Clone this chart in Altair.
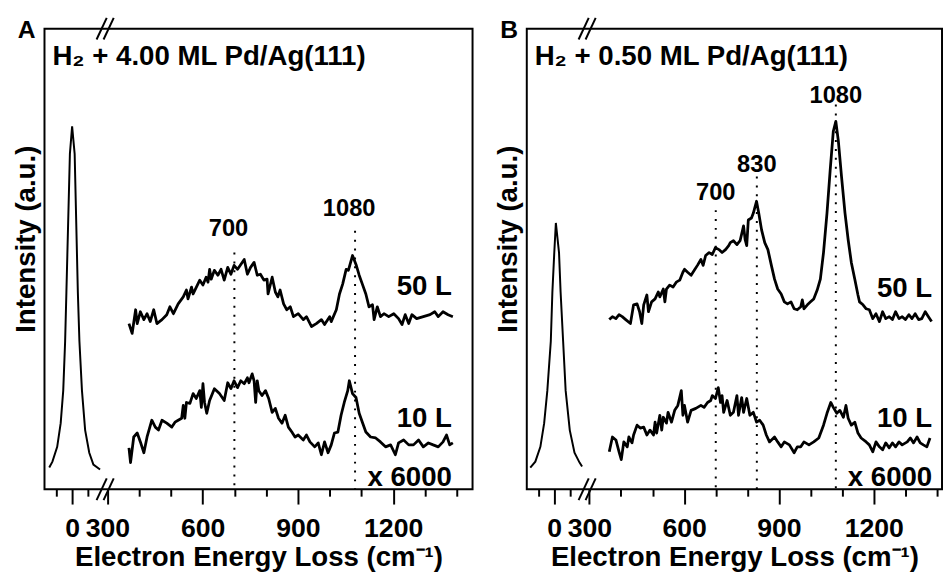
import altair as alt
import pandas as pd

# ---------------- data ----------------
PANEL_LETTERS = ["A", "B"]
PANEL_TITLES = ["H₂ + 4.00 ML Pd/Ag(111)", "H₂ + 0.50 ML Pd/Ag(111)"]
CURVE_LABELS = ["50 L", "10 L", "x 6000"]

# elastic (specular) peak, energy loss in cm-1, intensity in a.u.
A_ELASTIC_E = [-72, -62, -47, -36, -28, -22, -18, -7, 0, 8, 18, 23, 31, 41, 54, 67, 88]
A_ELASTIC_I = [22, 28, 43, 67, 100, 150, 200, 340, 368, 340, 200, 150, 100, 60, 37, 25, 20]
B_ELASTIC_E = [-76, -60, -44, -32, -22, -11, -6, 0, 5, 15, 20, 28, 36, 49, 64, 80, 88]
B_ELASTIC_I = [22, 28, 43, 67, 100, 150, 200, 240, 270, 240, 200, 150, 100, 60, 37, 27, 23]

# panel A, 50 L
A_50L_E = [368, 378, 389, 394, 404, 415, 425, 435, 446, 456, 472, 487, 497, 508, 523, 539, 549, 554,
           565, 570, 591, 601, 611, 617, 622, 627, 637, 648, 658, 668, 679, 689, 699, 710, 731, 741,
           751, 762, 772, 782, 793, 803, 806, 819, 829, 837, 844, 855, 865, 876, 886, 901, 917, 927,
           943, 958, 974, 984, 1000, 1005, 1021, 1031, 1041, 1052, 1059, 1072, 1083, 1093, 1103,
           1114, 1124, 1135, 1140, 1150, 1160, 1171, 1186, 1202, 1217, 1228, 1238, 1249, 1259, 1274,
           1295, 1316, 1331, 1342, 1357, 1373, 1388]
A_50L_I = [168, 158, 182, 168, 180, 172, 178, 170, 182, 168, 172, 177, 185, 178, 188, 195, 202, 193,
           205, 198, 212, 207, 215, 210, 223, 213, 222, 217, 223, 212, 225, 218, 227, 223, 233, 218,
           225, 230, 217, 218, 212, 213, 198, 215, 200, 195, 202, 188, 182, 185, 175, 178, 172, 175,
           165, 168, 172, 167, 175, 170, 182, 198, 208, 223, 222, 237, 228, 217, 208,
           198, 185, 187, 172, 185, 175, 178, 175, 178, 173, 167, 177, 168, 177, 173,
           175, 177, 180, 175, 180, 177, 175]

# panel A, 10 L
A_10L_E = [368, 373, 383, 394, 404, 415, 425, 440, 451, 461, 472, 487, 503, 513, 523, 534, 539, 544,
           549, 560, 570, 580, 591, 596, 601, 606, 613, 622, 637, 653, 668, 679, 689, 699, 710, 720,
           731, 741, 746, 756, 762, 767, 772, 777, 787, 798, 808, 819, 829, 839, 850, 860, 870, 881,
           891, 901, 917, 927, 938, 953, 964, 974, 984, 995, 1005, 1015, 1026, 1036, 1046, 1057,
           1062, 1072, 1083, 1093, 1103, 1114, 1129, 1145, 1160, 1176, 1192, 1207, 1217, 1233, 1249,
           1264, 1280, 1295, 1311, 1326, 1342, 1357, 1368, 1378, 1388]
A_10L_I = [42, 27, 53, 57, 48, 37, 53, 70, 63, 60, 70, 67, 63, 68, 70, 72, 85, 72, 88, 87,
           97, 92, 100, 83, 107, 88, 77, 90, 102, 97, 90, 108, 102, 110, 103, 110, 107, 113, 108, 117,
           110, 88, 110, 100, 95, 100, 92, 78, 82, 72, 67, 75, 63, 58, 53, 55, 50, 55, 48, 43,
           47, 35, 48, 37, 45, 57, 58, 75, 88, 100, 110, 97, 93, 77, 68, 58, 53, 52, 48, 43,
           45, 35, 47, 50, 45, 45, 50, 43, 47, 45, 43, 48, 55, 45, 47]

# panel B, 50 L
B_50L_E = [363, 373, 384, 394, 404, 415, 430, 440, 451, 459, 466, 472, 482, 487, 497, 508, 518, 523,
           534, 539, 544, 554, 565, 575, 586, 596, 601, 611, 622, 632, 642, 653, 660, 668, 679, 689,
           699, 710, 720, 731, 741, 746, 756, 767, 777, 788, 793, 798, 803, 813, 819, 829, 836, 845,
           855, 865, 876, 886, 896, 907, 917, 927, 938, 948, 958, 969, 974, 979, 990, 1000, 1010,
           1021, 1031, 1041, 1052, 1062, 1072, 1080, 1088, 1098, 1109, 1119, 1129, 1140, 1150, 1155,
           1166, 1176, 1186, 1197, 1207, 1218, 1228, 1238, 1249, 1259, 1269, 1280, 1290, 1300, 1311,
           1321, 1331, 1342, 1352, 1363, 1373, 1383]
B_50L_I = [172, 175, 173, 177, 175, 172, 168, 187, 188, 180, 168, 187, 197, 180, 190, 193, 200, 195,
           203, 190, 203, 207, 205, 210, 212, 220, 223, 220, 217, 222, 227, 233, 227, 237, 240, 238,
           245, 243, 240, 243, 247, 250, 252, 248, 252, 267, 253, 247, 273, 275, 280, 292, 280, 263,
           250, 243, 227, 213, 203, 198, 190, 188, 190, 183, 182, 185, 192, 183, 187, 190, 193,
           202, 213, 240, 280, 323, 363, 373, 353, 317, 280, 253, 230, 213, 197, 190,
           187, 183, 182, 173, 178, 170, 180, 173, 175, 172, 180, 173, 175, 172, 177,
           173, 178, 172, 173, 180, 175, 170]

# panel B, 10 L
B_10L_E = [363, 373, 384, 394, 401, 409, 420, 425, 435, 440, 451, 461, 472, 482, 492, 503, 508, 513,
           523, 529, 534, 544, 549, 560, 570, 580, 591, 596, 601, 611, 622, 637, 653, 663, 674, 684,
           689, 699, 708, 715, 720, 725, 736, 746, 756, 767, 772, 782, 788, 798, 808, 819, 829, 839,
           850, 860, 870, 886, 896, 907, 917, 933, 948, 958, 969, 979, 995, 1010, 1026, 1041, 1052,
           1064, 1072, 1083, 1093, 1104, 1112, 1119, 1129, 1140, 1150, 1160, 1176, 1186, 1197, 1207,
           1218, 1228, 1238, 1249, 1259, 1269, 1280, 1290, 1306, 1316, 1326, 1337, 1347, 1357, 1368, 1378]
B_10L_I = [38, 53, 50, 38, 30, 48, 43, 53, 47, 55, 65, 62, 63, 55, 60, 55, 68, 57, 75, 60,
           73, 67, 78, 68, 80, 85, 100, 75, 85, 68, 80, 82, 85, 83, 88, 90, 95, 92, 103, 88,
           95, 78, 90, 75, 78, 95, 75, 93, 78, 92, 75, 78, 68, 70, 65, 55, 48, 53, 48, 43,
           48, 45, 37, 43, 43, 48, 45, 48, 52, 65, 77, 88, 83, 77, 80, 73, 85, 72, 65, 68,
           57, 52, 48, 45, 38, 48, 43, 40, 47, 42, 47, 43, 48, 45, 48, 52, 47, 53, 47, 45, 43, 52]

A_PEAKS = [700, 1080]
B_PEAKS = [700, 830, 1080]

LEFT_TICKS = [-50, 0, 50]
RIGHT_TICKS = [300, 400, 500, 600, 700, 800, 900, 1000, 1100, 1200, 1300, 1400]
LABELED_TICKS = [0, 300, 600, 900, 1200]

# ---------------- layout ----------------
ELASTIC_SHIFT = 189      # elastic segment is drawn left of the axis break
BREAK_AT = 293
Y_MAX = 467
FONT = "Liberation Sans"


def disp(e, elastic):
    return e + ELASTIC_SHIFT if elastic else e


tick_vals = [disp(t, True) for t in LEFT_TICKS] + RIGHT_TICKS
label_map = [(disp(t, t < 300), t) for t in LABELED_TICKS]
label_expr = " : ".join(f"datum.value == {d} ? '{t}'" for d, t in label_map) + " : ''"
major_test = " || ".join(f"datum.value == {d}" for d, _ in label_map)

# axis-break slashes ("//") on the bottom and top frame lines
brk_rows = []
for base in (0, Y_MAX):
    for k in (-1, 1):
        c = BREAK_AT + k * 11
        brk_rows.append({"disp": c - 16, "disp2": c + 16, "I": base - 11, "I2": base + 11})
BRK_DF = pd.DataFrame(brk_rows)


def make_panel(idx, el_e, el_i, e50, i50, e10, i10, peaks, peak_tops, peak_label_levels,
               peak_dx, curve_levels, xmax, width):
    rows = []
    for e, i in zip(el_e, el_i):
        rows.append({"series": "elastic", "disp": disp(e, True), "I": i})
    for name, es, is_ in (("50 L", e50, i50), ("10 L", e10, i10)):
        assert len(es) == len(is_)
        for e, i in zip(es, is_):
            rows.append({"series": name, "disp": disp(e, False), "I": i})
    df = pd.DataFrame(rows)

    X = alt.X("disp:Q",
              scale=alt.Scale(domain=[102, xmax], nice=False, zero=False),
              axis=alt.Axis(values=tick_vals, labelExpr=label_expr, grid=False, domain=False,
                            tickColor="black", tickWidth=2,
                            tickSize={"condition": {"test": major_test, "value": 15}, "value": 7},
                            labelFont=FONT, labelFontSize=27, labelFontWeight="bold",
                            labelColor="black", labelPadding=12, labelOverlap=False,
                            labelFlush=False,
                            title="Electron Energy Loss (cm⁻¹)", titleFont=FONT,
                            titleFontSize=28, titleFontWeight="bold", titleColor="black",
                            titlePadding=2))
    Y = alt.Y("I:Q",
              scale=alt.Scale(domain=[0, Y_MAX], nice=False, zero=False),
              axis=alt.Axis(title="Intensity (a.u.)", ticks=False, labels=False, domain=False,
                            grid=False, titleFont=FONT, titleFontSize=28, titleFontWeight="bold",
                            titleColor="black", titlePadding=4, titleY=213))

    elastic = alt.Chart(df[df.series == "elastic"]).mark_line(
        color="black", strokeWidth=2).encode(x=X, y=Y)
    spectra = alt.Chart(df[df.series != "elastic"]).mark_line(
        color="black", strokeWidth=2.8, strokeJoin="round").encode(x=X, y=Y, detail="series:N")

    rule_df = pd.DataFrame({"disp": peaks, "I": peak_tops, "I2": [0] * len(peaks)})
    rules = alt.Chart(rule_df).mark_rule(color="black", strokeWidth=2, strokeDash=[2, 7]).encode(
        x=X, y=Y, y2="I2:Q")

    plabel_df = pd.DataFrame({"disp": peaks, "I": peak_label_levels, "t": [str(p) for p in peaks]})
    plabels = alt.Chart(plabel_df).mark_text(
        font=FONT, fontSize=24, fontWeight="bold", color="black", baseline="alphabetic",
        align="center", dx=peak_dx).encode(x=X, y=Y, text="t:N")

    clabel_df = pd.DataFrame({"disp": [1385] * 3, "I": curve_levels, "t": CURVE_LABELS})
    clabels = alt.Chart(clabel_df).mark_text(
        font=FONT, fontSize=28, fontWeight="bold", color="black", baseline="alphabetic",
        align="right").encode(x=X, y=Y, text="t:N")

    brk = alt.Chart(BRK_DF).mark_rule(color="black", strokeWidth=2).encode(
        x=X, x2="disp2:Q", y=Y, y2="I2:Q")

    ttl_df = pd.DataFrame({"t": [PANEL_TITLES[idx]]})
    ttl = alt.Chart(ttl_df).mark_text(
        font=FONT, fontSize=28, fontWeight="bold", color="black", baseline="alphabetic",
        align="left").encode(x=alt.value(8), y=alt.value(37), text="t:N")

    let_df = pd.DataFrame({"t": [PANEL_LETTERS[idx]]})
    let = alt.Chart(let_df).mark_text(
        font=FONT, fontSize=25, fontWeight="bold", color="black", baseline="alphabetic",
        align="center").encode(x=alt.value(-18), y=alt.value(9), text="t:N")

    return alt.layer(elastic, spectra, rules, plabels, clabels, brk, ttl, let).properties(
        width=width, height=Y_MAX)


panel_a = make_panel(0, A_ELASTIC_E, A_ELASTIC_I, A_50L_E, A_50L_I, A_10L_E, A_10L_I,
                     A_PEAKS, [240, 262], [257, 277], -6, [197, 63, 3], 1450, 434)
panel_b = make_panel(1, B_ELASTIC_E, B_ELASTIC_I, B_50L_E, B_50L_I, B_10L_E, B_10L_I,
                     B_PEAKS, [283, 317, 390], [293, 322, 392], 0, [195, 63, 3], 1416, 421)

chart = alt.hconcat(panel_a, panel_b, spacing=21).properties(
    padding={"left": 4, "top": 4, "right": 0, "bottom": 0}
).configure_view(stroke="black", strokeWidth=2)

chart.save("out.html", embed_options={"renderer": "svg", "actions": False})
